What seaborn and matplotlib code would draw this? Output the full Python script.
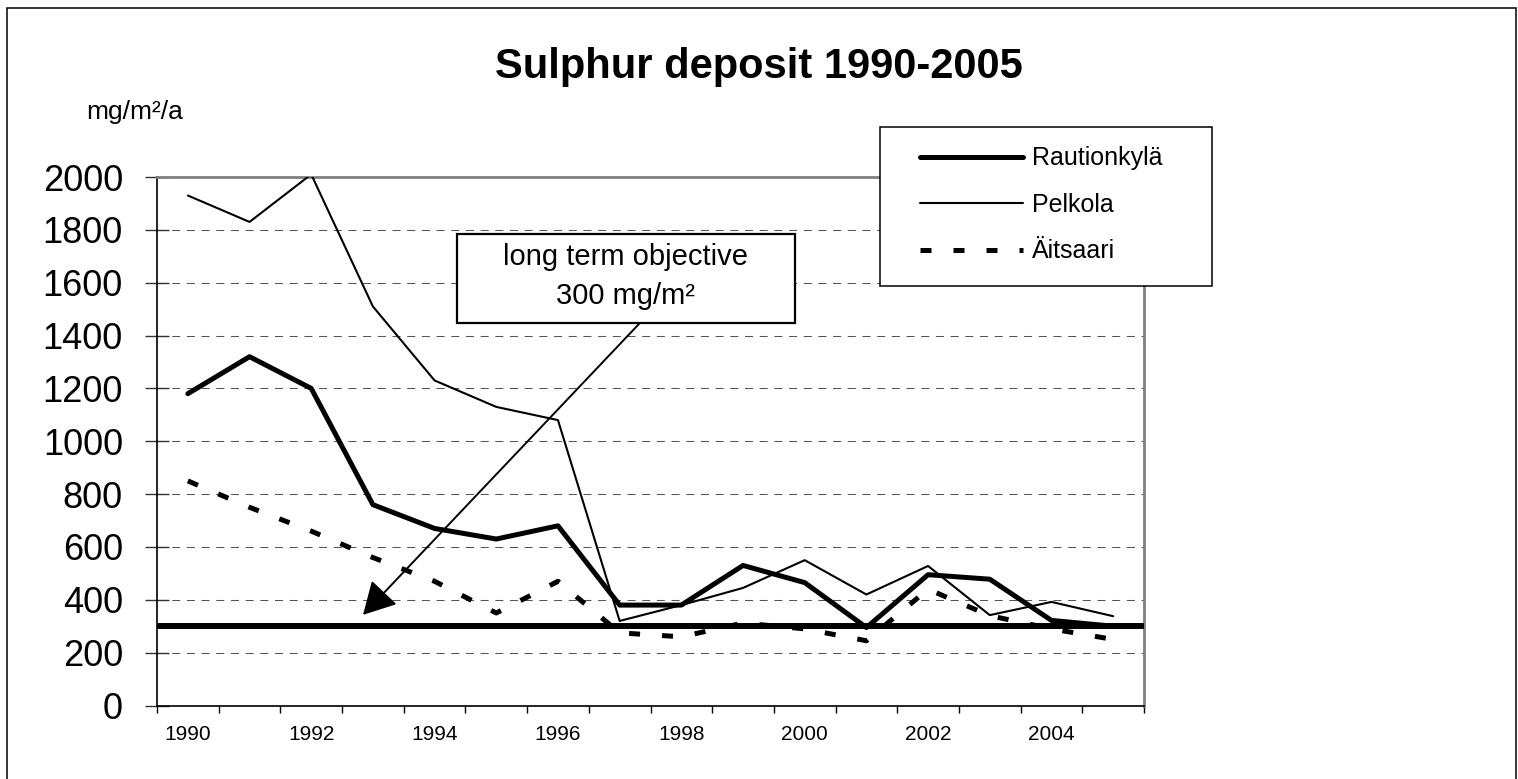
import numpy as np
import matplotlib
matplotlib.use("Agg")
import matplotlib.pyplot as plt
from matplotlib.patches import Rectangle
import seaborn as sns

# values (mg/m2/a)
years = np.arange(1990, 2006)
rautionkyla = [1180, 1320, 1200, 760, 670, 630, 680, 380, 380, 530, 465, 295, 495, 478, 322, 300]
pelkola = [1930, 1830, 2010, 1510, 1230, 1130, 1080, 320, 380, 445, 550, 420, 528, 342, 392, 338]
aitsaari = [850, 750, 660, 560, 470, 350, 470, 275, 260, 312, 290, 245, 440, 340, 290, 250]
objective = 300
year_labels = [str(y) for y in range(1990, 2005, 2)]
y_ticks = list(range(0, 2001, 200))

sns.set_style("white")
plt.rcParams['font.family'] = ['Liberation Sans', 'DejaVu Sans']
plt.rcParams['text.color'] = 'black'
plt.rcParams['xtick.color'] = 'black'
plt.rcParams['ytick.color'] = 'black'
plt.rcParams['axes.labelcolor'] = 'black'

W, H = 1518, 779
fig = plt.figure(figsize=(W / 100, H / 100), dpi=100)
ax = fig.add_axes([157 / W, 1 - 705.5 / H, (1144 - 157) / W, (705.5 - 177) / H])

sns.lineplot(x=years, y=rautionkyla, ax=ax, color='black', lw=3.6, label='Rautionkylä', zorder=3)
sns.lineplot(x=years, y=pelkola, ax=ax, color='black', lw=1.5, label='Pelkola', zorder=3)
sns.lineplot(x=years, y=aitsaari, ax=ax, color='black', lw=3.6, linestyle=(0, (2.2, 4.4)),
             label='Äitsaari', zorder=3)
ax.axhline(objective, color='black', lw=4.3, zorder=5)

ax.set_xlim(1989.5, 2005.5)
ax.set_ylim(0, 2000)
ax.set_yticks(y_ticks)
ax.set_yticklabels([str(v) for v in y_ticks])
ax.set_xticks(range(1990, 2005, 2))
ax.set_xticklabels(year_labels)
ax.set_xticks(np.arange(1989.5, 2006, 1), minor=True)
ax.tick_params(axis='x', which='major', length=0, labelsize=15, pad=14, labelcolor='black')
ax.tick_params(axis='x', which='minor', length=4.7, width=1, color='black', direction='out')
ax.tick_params(axis='y', length=17, width=1, color='#333333', direction='inout', labelsize=26, pad=16,
               labelcolor='black')
ax.tick_params(left=True, bottom=True, which='both')
ax.set_xlabel('')
ax.set_ylabel('')

ax.grid(axis='y', color='#555555', lw=0.75, linestyle=(0, (7.7, 6.4)))
ax.grid(axis='x', visible=False)
for s in ['left', 'bottom']:
    ax.spines[s].set_color('black')
    ax.spines[s].set_linewidth(1.2)
for s in ['top', 'right']:
    ax.spines[s].set_color('#808080')
    ax.spines[s].set_linewidth(2)

# annotation box and arrow
ax.add_patch(Rectangle((1994.36, 1448), 5.48, 338, facecolor='white', edgecolor='black', lw=1.6, zorder=6))
ax.text(1997.10, 1698, 'long term objective', ha='center', va='center', fontsize=21, color='black', zorder=7)
ax.text(1997.10, 1550, '300 mg/m²', ha='center', va='center', fontsize=21, color='black', zorder=7)
ax.annotate('', xy=(1992.84, 343), xytext=(1997.33, 1448),
            arrowprops=dict(arrowstyle='-|>,head_length=2.0,head_width=1.1', color='black', lw=1.4,
                            shrinkA=0, shrinkB=0, mutation_scale=10), zorder=6)

# legend
handles, labels = ax.get_legend_handles_labels()
if ax.get_legend() is not None:
    ax.get_legend().remove()
fig.patches.append(Rectangle((880 / W, 1 - 286 / H), 332 / W, 159 / H, transform=fig.transFigure,
                             facecolor='white', edgecolor='black', lw=1.1, zorder=4))
leg = fig.legend(handles, labels, loc='center left', bbox_to_anchor=(920 / W, 1 - 205 / H), frameon=False,
                 fontsize=18, handlelength=4.12, handletextpad=0.36, labelspacing=0.9, borderpad=0,
                 borderaxespad=0, labelcolor='black')
leg.set_zorder(5)

# titles and outer border
fig.text(0.5, 1 - 78 / H, 'Sulphur deposit 1990-2005', ha='center', va='baseline', fontsize=30,
         fontweight='bold', color='black')
fig.text(86 / W, 1 - 119 / H, 'mg/m²/a', ha='left', va='baseline', fontsize=19, color='black')
fig.patches.append(Rectangle((7 / W, -0.02), (1516 - 7) / W, 1 - 8 / H + 0.02, transform=fig.transFigure,
                             fill=False, edgecolor='black', lw=1.1, zorder=10))

fig.savefig('out.png', dpi=100)
